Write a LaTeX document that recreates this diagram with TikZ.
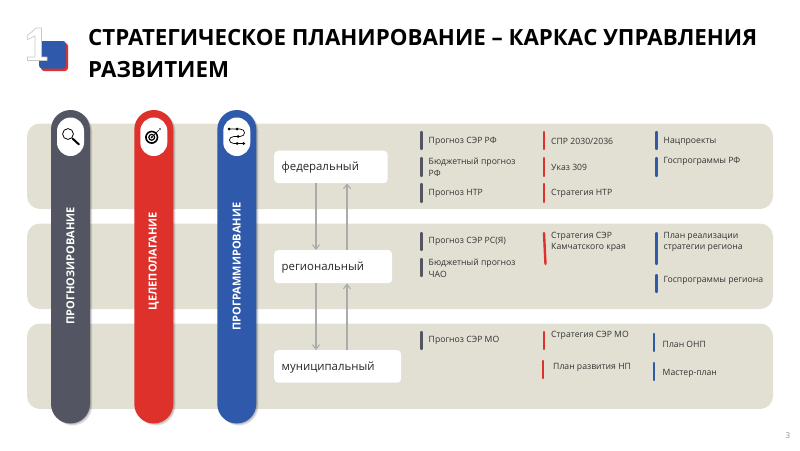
\documentclass[tikz,border=0pt]{standalone}
\usepackage{fontspec}
\setmainfont{Open Sans}
\usetikzlibrary{arrows.meta}
\definecolor{band}{HTML}{E2DFD3}
\definecolor{cgray}{HTML}{535562}
\definecolor{cred}{HTML}{DF312B}
\definecolor{cblue}{HTML}{2F5AAB}
\definecolor{arrowgray}{HTML}{ABABAB}
\definecolor{txt}{HTML}{333333}
\tikzset{
  bandbox/.style={fill=band,rounded corners=13pt},
  pill/.style={rounded corners=19.5pt},
  pillshadow/.style={fill=black,opacity=.13,rounded corners=19.5pt},
  innerpill/.style={fill=white,rounded corners=13.5pt},
  level/.style={fill=white,rounded corners=4pt,anchor=north west,inner sep=0pt},
  lvltext/.style={anchor=west,inner sep=0pt,font=\fontsize{11.4}{14}\selectfont,text=black!85},
  item/.style={anchor=west,inner sep=0pt,font=\fontsize{8.65}{11.6}\selectfont,text=txt,align=left},
  ibar/.style={line width=2.4pt,line cap=round},
  vtext/.style={rotate=90,text=white,font=\fontsize{11}{13}\selectfont\bfseries,inner sep=0pt},
  flow/.style={draw=arrowgray,line width=1.1pt,-{Straight Barb[length=4.5pt,width=7pt]}},
  ttl/.style={anchor=west,inner sep=0pt,font=\fontsize{22.3}{26}\selectfont\bfseries,text=black},
}
\newcommand{\mybar}[4]{\draw[ibar,#1] (#2,#3) -- (#2,#4);}
\begin{document}
\begin{tikzpicture}[x=1pt,y=-1pt]
\useasboundingbox (0,0) rectangle (800,450);
% logo
\fill[cred,rounded corners=3pt] (41,43) rectangle (68,71);
\fill[cblue,rounded corners=3pt] (39,41) rectangle (66,68.5);
\draw[fill=white,draw=black!22,line width=.7pt,line join=round] (27,36) -- (36,28) -- (41.5,28) -- (41.5,57) -- (47,57) -- (47,60.5) -- (27.5,60.5) -- (27.5,57) -- (35,57) -- (35,36) -- (27.5,39.5) -- cycle;
% title
\node[ttl] (t1) at (88,38) {СТРАТЕГИЧЕСКОЕ ПЛАНИРОВАНИЕ – КАРКАС УПРАВЛЕНИЯ};
\node[ttl] (t2) at (88,70) {РАЗВИТИЕМ};
% bands
\fill[bandbox] (27,123.5) rectangle (773,209);
\fill[bandbox] (27,223.5) rectangle (773,309);
\fill[bandbox] (27,323.5) rectangle (773,409);
% pills
\foreach \x/\c in {51/cgray,134.3/cred,217.3/cblue}{
  \fill[pillshadow] (\x+2.5,111.5) rectangle (\x+41,425.5);
  \fill[pillshadow] (\x+1.5,111) rectangle (\x+40,424.5);
  \fill[pill,fill=\c] (\x,110) rectangle (\x+39,423.5);
  \fill[innerpill] (\x+6,117.5) rectangle (\x+33,156);
}
\node[vtext] (v1) at (70.5,266) {ПРОГНОЗИРОВАНИЕ};
\node[vtext] (v2) at (153.8,261) {ЦЕЛЕПОЛАГАНИЕ};
\node[vtext] (v3) at (236.8,266.5) {ПРОГРАММИРОВАНИЕ};
% icon magnifier
\draw[line width=.8pt,black] (68,134) circle (5.4);
\draw[line width=2pt,line cap=round] (72.5,138.5) -- (79,144.5);
% icon target
\draw[line width=1.6pt] (151.7,137.3) circle (5.8);
\draw[line width=1.2pt] (151.7,137.3) circle (2.9);
\fill (151.7,137.3) circle (1.1);
\draw[line width=.6pt] (151.7,137.3) -- (159,130);
\fill (160,129) circle (.9);
% icon route
\draw[line width=.7pt] (229,129) -- (240,129) .. controls (246,129) and (246,136.5) .. (240,136.5) -- (234,136.5) .. controls (228,136.5) and (228,143.5) .. (234,143.5) -- (245,143.5);
\foreach \p in {(229,129),(237,129),(238,136.5),(237,143.5),(243.5,143.5)} \fill \p circle (1.5);
% level boxes
\node[level,minimum width=113.5pt,minimum height=32.5pt] (fed) at (274,150.5) {};
\node[level,minimum width=118pt,minimum height=33pt] (reg) at (274,250) {};
\node[level,minimum width=127pt,minimum height=32.5pt] (mun) at (274,350) {};
\node[lvltext] (lfed) at (281.5,168) {федеральный};
\node[lvltext] (lreg) at (281.5,268) {региональный};
\node[lvltext] (lmun) at (281.5,368) {муниципальный};
% arrows
\coordinate (dn) at (316,0);
\coordinate (up) at (347,0);
\draw[flow] (fed.south -| dn) -- (reg.north -| dn);
\draw[flow] (reg.north -| up) -- (fed.south -| up);
\draw[flow] (reg.south -| dn) -- (mun.north -| dn);
\draw[flow] (mun.north -| up) -- (reg.south -| up);
% band 1 items
\mybar{cgray}{421.5}{132}{149}
\mybar{cgray}{421.5}{158}{176}
\mybar{cgray}{421.5}{184}{202}
\mybar{cred}{544}{132}{149}
\mybar{cred}{544}{158}{176}
\mybar{cred}{544}{184}{202}
\mybar{cblue}{656.5}{132}{149}
\mybar{cblue}{656.5}{158}{176}
\node[item] (a1) at (428.5,141) {Прогноз СЭР РФ};
\node[item] (a2) at (428.5,167) {Бюджетный прогноз\\РФ};
\node[item] (a3) at (428.5,193) {Прогноз НТР};
\node[item] (a4) at (551,141) {СПР 2030/2036};
\node[item] (a5) at (551,167) {Указ 309};
\node[item] (a6) at (551,193) {Стратегия НТР};
\node[item] (a7) at (663.5,141) {Нацпроекты};
\node[item] (a8) at (663.5,161.5) {Госпрограммы РФ};
% band 2 items
\mybar{cgray}{421.5}{233}{250}
\mybar{cgray}{421.5}{259}{276}
\draw[ibar,cred] (544,233) -- (545.5,264);
\mybar{cblue}{656.5}{233}{264}
\mybar{cblue}{656.5}{275}{292}
\node[item] (b1) at (428.5,241.5) {Прогноз СЭР РС(Я)};
\node[item] (b2) at (428.5,268) {Бюджетный прогноз\\ЧАО};
\node[item] (b3) at (551,242) {Стратегия СЭР\\Камчатского края};
\node[item] (b4) at (663.5,242) {План реализации\\стратегии региона};
\node[item] (b5) at (663.5,280) {Госпрограммы региона};
% band 3 items
\mybar{cgray}{421.5}{332}{349}
\mybar{cred}{544}{332}{349}
\mybar{cred}{543}{361}{378}
\mybar{cblue}{654}{334}{351}
\mybar{cblue}{654}{363}{380}
\node[item] (c1) at (428.5,340.5) {Прогноз СЭР МО};
\node[item] (c2) at (551,335.5) {Стратегия СЭР МО};
\node[item] (c3) at (553,367) {План развития НП};
\node[item] (c4) at (662.5,344.5) {План ОНП};
\node[item] (c5) at (662.5,373) {Мастер-план};
% page number
\node[anchor=center,inner sep=0pt,font=\fontsize{8}{10}\selectfont,text=black!45] (pg) at (788,435.5) {3};
\end{tikzpicture}
\end{document}
